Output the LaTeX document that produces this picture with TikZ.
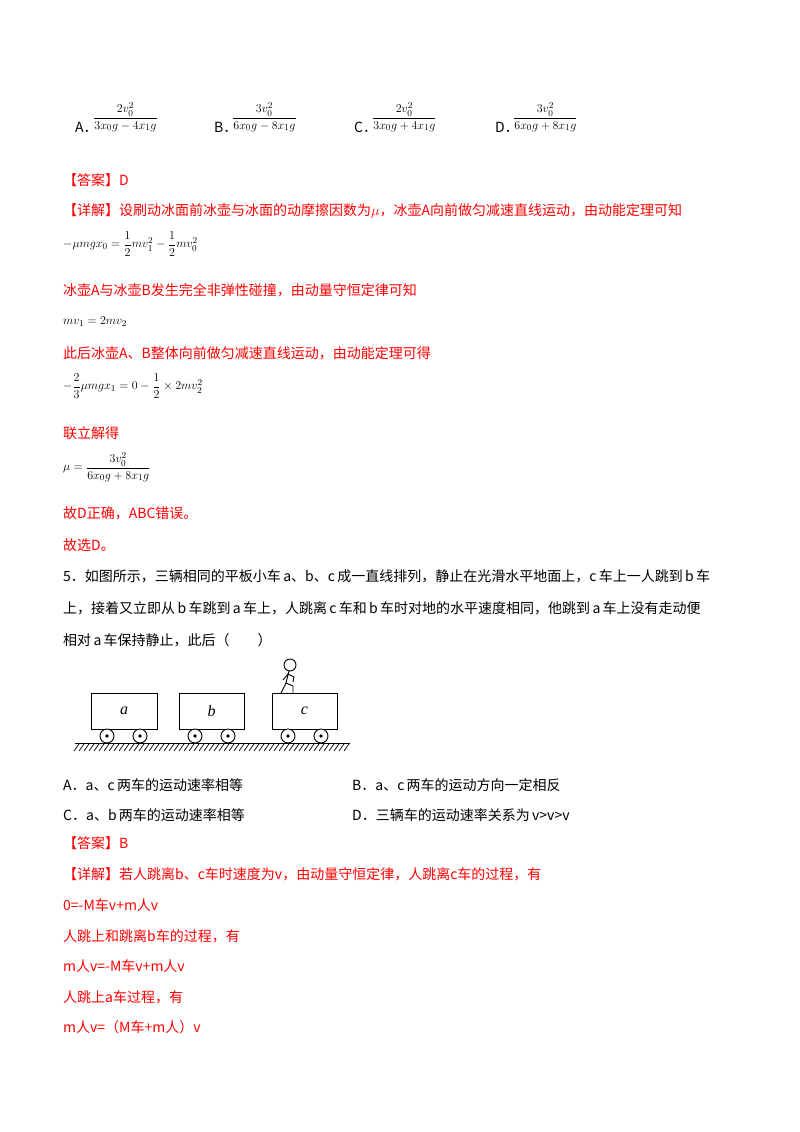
\documentclass[tikz,border=0pt]{standalone}
\usepackage{amsmath}
\usepackage{fontspec}
\setmainfont{Liberation Serif}
\setsansfont{Liberation Sans}
\newfontfamily\cjk{Noto Sans CJK SC}
\begin{document}
\begin{tikzpicture}[x=1pt,y=-1pt,
  t/.style={anchor=west,inner sep=0pt,font=\cjk\fontsize{14}{16}\selectfont},
  r/.style={t,text=red},
  m/.style={anchor=west,inner sep=0pt,font=\fontsize{13}{15}\selectfont},
  cart/.style={draw,line width=0.9pt},
  wheel/.style={draw,line width=0.9pt,fill=white}]
\useasboundingbox (0,0) rectangle (800,1132);
% options
\node[t] (oa) at (75,127) {A．};
\node[m] (fa) at (93,117) {$\dfrac{2v_0^2}{3x_0g-4x_1g}$};
\node[t] (ob) at (214,127) {B．};
\node[m] (fb) at (232,117) {$\dfrac{3v_0^2}{6x_0g-8x_1g}$};
\node[t] (oc) at (354,127) {C．};
\node[m] (fc) at (372,117) {$\dfrac{2v_0^2}{3x_0g+4x_1g}$};
\node[t] (od) at (495,127) {D．};
\node[m] (fd) at (513,117) {$\dfrac{3v_0^2}{6x_0g+8x_1g}$};
\node[r] (ans1) at (63,180) {【答案】D};
\node[r] (det1) at (63,211) {【详解】设刷动冰面前冰壶与冰面的动摩擦因数为$\mu$，冰壶A向前做匀减速直线运动，由动能定理可知};
\node[m] (e1) at (63,244) {$-\mu mgx_0=\dfrac12mv_1^2-\dfrac12mv_0^2$};
\node[r] (l2) at (63,290) {冰壶A与冰壶B发生完全非弹性碰撞，由动量守恒定律可知};
\node[m] (e2) at (63,322) {$mv_1=2mv_2$};
\node[r] (l3) at (63,353) {此后冰壶A、B整体向前做匀减速直线运动，由动能定理可得};
\node[m] (e3) at (63,386) {$-\dfrac23\mu mgx_1=0-\dfrac12\times2mv_2^2$};
\node[r] (l4) at (63,433) {联立解得};
\node[m] (e4) at (63,467) {$\mu=\dfrac{3v_0^2}{6x_0g+8x_1g}$};
\node[r] (l5) at (63,513) {故D正确，ABC错误。};
\node[r] (l6) at (63,545) {故选D。};
\node[t] (q1) at (63,576) {5．如图所示，三辆相同的平板小车\,\textit{a}、\textit{b}、\textit{c}\,成一直线排列，静止在光滑水平地面上，\textit{c}\,车上一人跳到\,\textit{b}\,车};
\node[t] (q2) at (63,608) {上，接着又立即从\,\textit{b}\,车跳到\,\textit{a}\,车上，人跳离\,\textit{c}\,车和\,\textit{b}\,车时对地的水平速度相同，他跳到\,\textit{a}\,车上没有走动便};
\node[t] (q3) at (63,640) {相对\,\textit{a}\,车保持静止，此后（\qquad）};
% figure
\node[cart,minimum width=66pt,minimum height=36pt,font=\fontsize{16}{18}\selectfont\itshape] (ca) at (124,711) {a};
\node[cart,minimum width=65pt,minimum height=36pt,font=\fontsize{16}{18}\selectfont\itshape] (cb) at (211.5,711) {b};
\node[cart,minimum width=65pt,minimum height=36pt,font=\fontsize{16}{18}\selectfont\itshape] (cc) at (304.5,711) {c};
\foreach \x in {107,140,195,228,288,321}{
  \draw[wheel] (\x,736) circle (7); \fill (\x,736) circle (1.8);}
\draw[line width=0.9pt] (75,743) -- (350,743);
\foreach \x in {77,82,...,347}{\draw[line width=0.7pt] (\x+2,744) -- (\x-3,751);}
\draw[line width=0.9pt] (290,665) circle (6);
\draw[line width=0.9pt] (289,671) -- (286,683) -- (281,693);
\draw[line width=0.9pt] (286,683) -- (293,686) -- (293,693);
\draw[line width=0.9pt] (283,680) -- (288,674) -- (294,677) -- (293,682);
% options 5
\node[t] (pa) at (63,785) {A．\textit{a}、\textit{c}\,两车的运动速率相等};
\node[t] (pb) at (352,785) {B．\textit{a}、\textit{c}\,两车的运动方向一定相反};
\node[t] (pc) at (63,815) {C．\textit{a}、\textit{b}\,两车的运动速率相等};
\node[t] (pd) at (352,815) {D．三辆车的运动速率关系为\,\textit{v>v>v}};
\node[r] (ans2) at (63,843) {【答案】B};
\node[r] (d1) at (63,874) {【详解】若人跳离b、c车时速度为v，由动量守恒定律，人跳离c车的过程，有};
\node[r] (d2) at (63,905) {0=-M车v+m人v};
\node[r] (d3) at (63,936) {人跳上和跳离b车的过程，有};
\node[r] (d4) at (63,966) {m人v=-M车v+m人v};
\node[r] (d5) at (63,997) {人跳上a车过程，有};
\node[r] (d6) at (63,1027) {m人v=（M车+m人）v};
\end{tikzpicture}
\end{document}
